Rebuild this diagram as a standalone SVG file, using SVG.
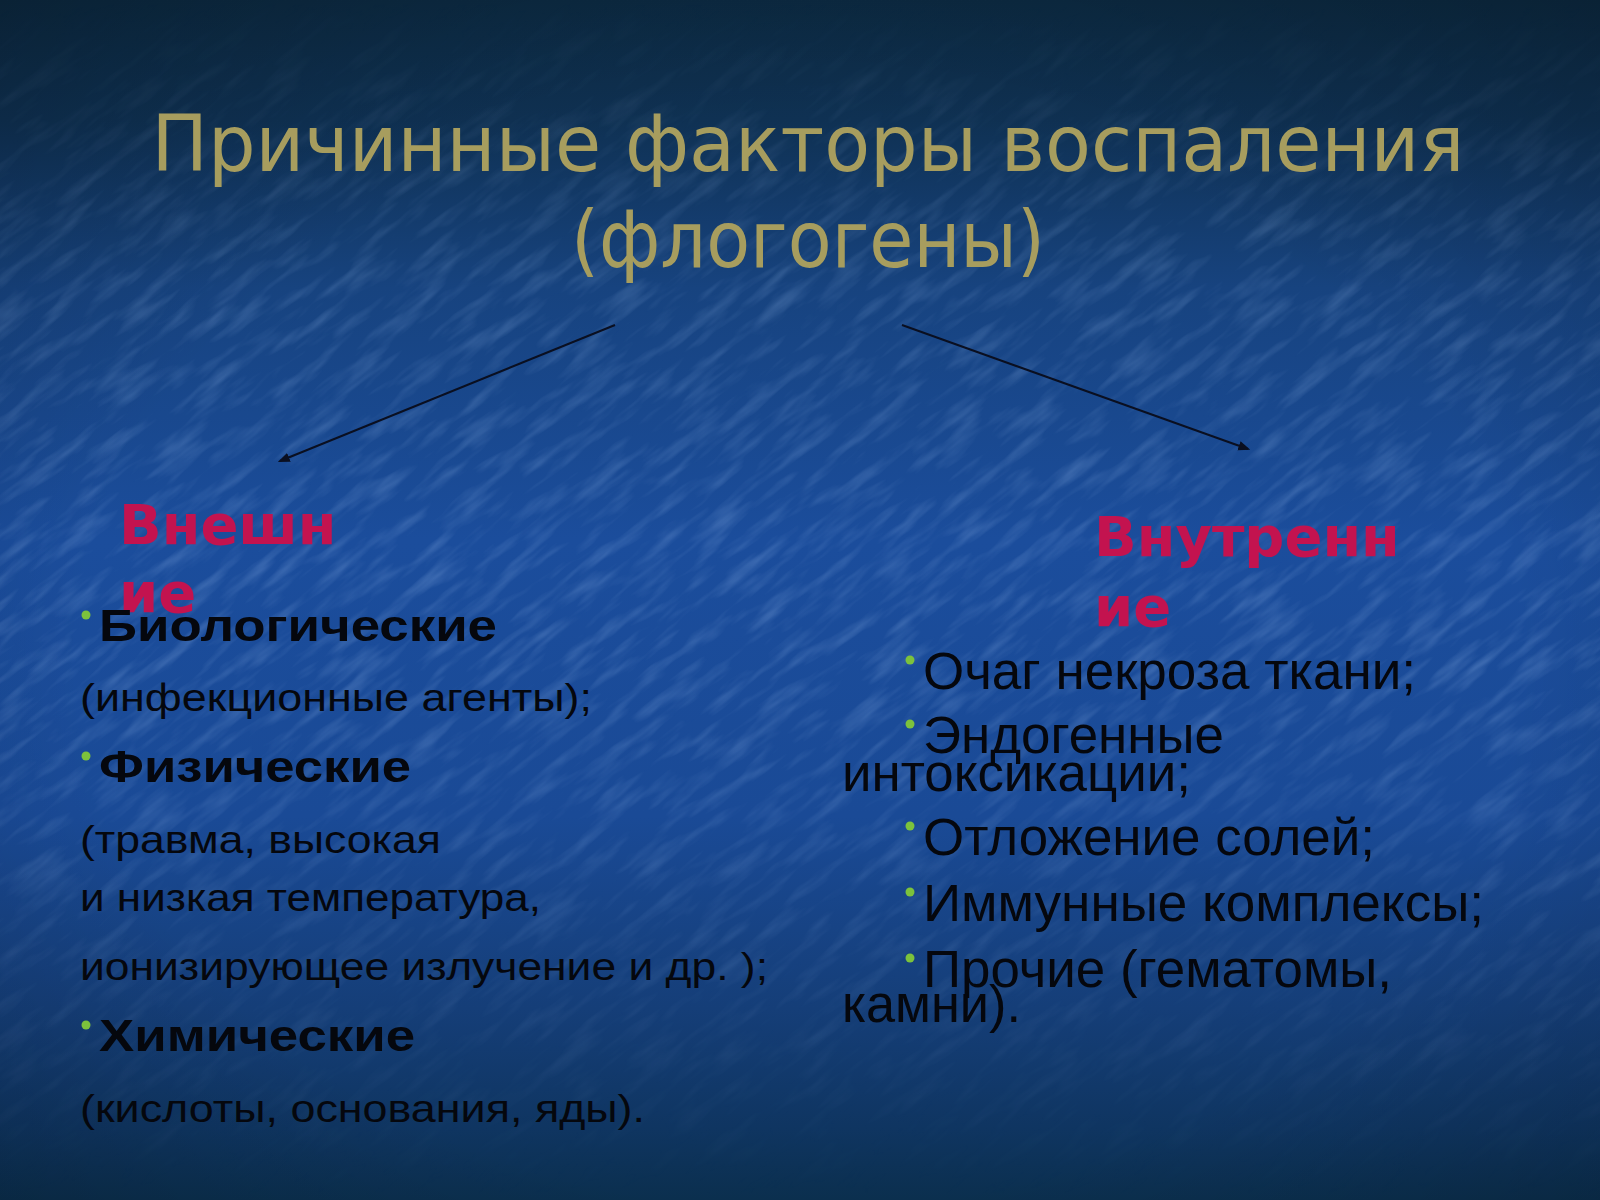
<svg xmlns="http://www.w3.org/2000/svg" width="1600" height="1200" viewBox="0 0 1600 1200">
  <defs>
    <linearGradient id="bg" x1="0" y1="0" x2="0" y2="1">
      <stop offset="0" stop-color="#0c2a42"/>
      <stop offset="0.1" stop-color="#0f3153"/>
      <stop offset="0.24" stop-color="#17437f"/>
      <stop offset="0.45" stop-color="#1b4d9c"/>
      <stop offset="0.68" stop-color="#1a4a96"/>
      <stop offset="0.84" stop-color="#153e78"/>
      <stop offset="0.94" stop-color="#0f3561"/>
      <stop offset="1" stop-color="#0b2f4e"/>
    </linearGradient>
    <radialGradient id="vig" cx="0.5" cy="0.55" r="0.75">
      <stop offset="0.6" stop-color="#000" stop-opacity="0"/>
      <stop offset="1" stop-color="#000" stop-opacity="0.2"/>
    </radialGradient>
    <filter id="tex" x="0" y="0" width="1" height="1" filterUnits="objectBoundingBox">
      <feTurbulence type="fractalNoise" baseFrequency="0.016 0.08" numOctaves="3" seed="11"/>
      <feColorMatrix type="matrix" values="0 0 0 0 0.4  0 0 0 0 0.6  0 0 0 0 0.95  0 0 0 1.2 -0.55"/>
    </filter>
    <linearGradient id="texfade" x1="0" y1="0" x2="0" y2="1">
      <stop offset="0" stop-color="#fff" stop-opacity="0"/>
      <stop offset="0.22" stop-color="#fff" stop-opacity="0.35"/>
      <stop offset="0.55" stop-color="#fff" stop-opacity="0.45"/>
      <stop offset="0.85" stop-color="#fff" stop-opacity="0.15"/>
      <stop offset="1" stop-color="#fff" stop-opacity="0"/>
    </linearGradient>
    <mask id="texmask">
      <rect width="1600" height="1200" fill="url(#texfade)"/>
    </mask>
    <marker id="arrow" viewBox="0 0 10 10" refX="8" refY="5" markerWidth="6" markerHeight="6" orient="auto" markerUnits="strokeWidth">
      <path d="M0,1 L10,5 L0,9 Z" fill="#0a0f20"/>
    </marker>
    <circle id="bullet" r="4.5" fill="#7cc23c"/>
  </defs>
  <style>
    .title { font-family: "DejaVu Sans", "Noto Sans", sans-serif; font-size: 78px; fill: #a79d5e; text-anchor: middle; }
    .head { font-family: "DejaVu Sans", "Noto Sans", sans-serif; font-weight: bold; font-size: 56px; fill: #c3134f; }
    .bold { font-family: "Liberation Sans", Arial, sans-serif; font-weight: bold; font-size: 44px; fill: #05070d; }
    .reg { font-family: "Liberation Sans", Arial, sans-serif; font-size: 39px; fill: #05070d; }
    .regr { font-family: "Liberation Sans", Arial, sans-serif; font-size: 51px; fill: #05070d; }
    .conn { stroke: #0a0f20; stroke-width: 2; fill: none; }
  </style>

  <rect width="1600" height="1200" fill="url(#bg)"/>
  <g mask="url(#texmask)">
    <g transform="rotate(-38 800 600)">
      <rect x="-700" y="-700" width="3000" height="2600" filter="url(#tex)"/>
    </g>
  </g>
  <rect width="1600" height="1200" fill="url(#vig)"/>

  <g id="title">
    <text class="title" x="808" y="171" textLength="1313" lengthAdjust="spacingAndGlyphs">Причинные факторы воспаления</text>
    <text class="title" x="808" y="267" textLength="474" lengthAdjust="spacingAndGlyphs">(флогогены)</text>
  </g>

  <g id="connectors">
    <line class="conn" x1="615" y1="325" x2="280" y2="461" marker-end="url(#arrow)"/>
    <line class="conn" x1="902" y1="325" x2="1248" y2="449" marker-end="url(#arrow)"/>
  </g>

  <g id="external">
    <text class="head" x="119" y="544">Внешн</text>
    <text class="head" x="119" y="612">ие</text>
    <use href="#bullet" x="86" y="615"/>
    <text class="bold" x="99" y="641" textLength="398" lengthAdjust="spacingAndGlyphs">Биологические</text>
    <text class="reg" x="80" y="711" textLength="512" lengthAdjust="spacingAndGlyphs">(инфекционные агенты);</text>
    <use href="#bullet" x="86" y="756"/>
    <text class="bold" x="99" y="782" textLength="312" lengthAdjust="spacingAndGlyphs">Физические</text>
    <text class="reg" x="80" y="853" textLength="361" lengthAdjust="spacingAndGlyphs">(травма, высокая</text>
    <text class="reg" x="80" y="911" textLength="461" lengthAdjust="spacingAndGlyphs">и низкая температура,</text>
    <text class="reg" x="80" y="980" textLength="688" lengthAdjust="spacingAndGlyphs">ионизирующее излучение и др. );</text>
    <use href="#bullet" x="86" y="1025"/>
    <text class="bold" x="99" y="1051" textLength="316" lengthAdjust="spacingAndGlyphs">Химические</text>
    <text class="reg" x="80" y="1122" textLength="565" lengthAdjust="spacingAndGlyphs">(кислоты, основания, яды).</text>
  </g>

  <g id="internal">
    <text class="head" x="1094" y="556">Внутренн</text>
    <text class="head" x="1094" y="626">ие</text>
    <use href="#bullet" x="910" y="660"/>
    <text class="regr" x="923" y="689" textLength="493" lengthAdjust="spacingAndGlyphs">Очаг некроза ткани;</text>
    <use href="#bullet" x="910" y="724"/>
    <text class="regr" x="923" y="753" textLength="301" lengthAdjust="spacingAndGlyphs">Эндогенные</text>
    <text class="regr" x="842" y="791" textLength="349" lengthAdjust="spacingAndGlyphs">интоксикации;</text>
    <use href="#bullet" x="910" y="826"/>
    <text class="regr" x="923" y="855" textLength="452" lengthAdjust="spacingAndGlyphs">Отложение солей;</text>
    <use href="#bullet" x="910" y="892"/>
    <text class="regr" x="923" y="921" textLength="561" lengthAdjust="spacingAndGlyphs">Иммунные комплексы;</text>
    <use href="#bullet" x="910" y="958"/>
    <text class="regr" x="923" y="987" textLength="469" lengthAdjust="spacingAndGlyphs">Прочие (гематомы,</text>
    <text class="regr" x="842" y="1022" textLength="179" lengthAdjust="spacingAndGlyphs">камни).</text>
  </g>
</svg>
